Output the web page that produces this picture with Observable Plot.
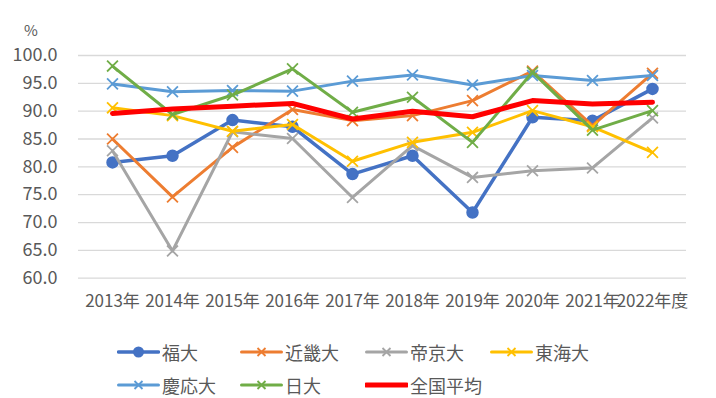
<!DOCTYPE html>
<html>
<head>
<meta charset="utf-8">
<script src="https://cdn.jsdelivr.net/npm/d3@7"></script>
<script src="https://cdn.jsdelivr.net/npm/@observablehq/plot@0.6"></script>
<style>
  html, body { margin: 0; padding: 0; background: #fff; }
  #wrap { position: relative; width: 716px; height: 398px; overflow: hidden;
          font-family: "Noto Sans CJK JP", "Noto Sans", sans-serif; color: #595959; }
  #unit { position: absolute; left: 24px; top: 22px; font-size: 15px; line-height: 15px; }
  .leg { position: absolute; display: flex; align-items: center; font-size: 18px; height: 24px; line-height: 24px; }
  .leg svg { margin-right: 2px; }
</style>
</head>
<body>
<div id="wrap">
  <div id="chart"></div>
  <div id="unit">%</div>
</div>
<script>
const years = ["2013年","2014年","2015年","2016年","2017年","2018年","2019年","2020年","2021年","2022年度"];
const seriesNames = ["福大","近畿大","帝京大","東海大","慶応大","日大","全国平均"];
const fukudai  = [80.8, 82.0, 88.4, 87.2, 78.7, 82.0, 71.8, 88.9, 88.3, 94.0];
const kinki    = [85.0, 74.6, 83.5, 90.3, 88.3, 89.2, 91.9, 97.2, 87.4, 96.8];
const teikyo   = [82.9, 64.9, 86.3, 85.1, 74.5, 83.8, 78.1, 79.3, 79.8, 88.8];
const tokai    = [90.6, 89.2, 86.4, 87.6, 81.0, 84.4, 86.2, 90.1, 87.2, 82.6];
const keio     = [94.9, 93.5, 93.7, 93.6, 95.4, 96.5, 94.7, 96.4, 95.5, 96.4];
const nichidai = [98.1, 89.4, 92.9, 97.6, 89.8, 92.5, 84.4, 97.0, 86.6, 90.1];
const average  = [89.6, 90.4, 90.9, 91.4, 88.6, 90.0, 89.0, 91.9, 91.3, 91.6];
const yTicks = [60, 65, 70, 75, 80, 85, 90, 95, 100];

const colors  = ["#4472C4","#ED7D31","#A5A5A5","#FFC000","#5B9BD5","#70AD47","#FF0000"];
const markers = ["circle","times","times","times","times","times",null];
const widths  = [3.5, 3, 3, 3, 3, 3, 5];
const values  = [fukudai, kinki, teikyo, tokai, keio, nichidai, average];

const rows = [];
seriesNames.forEach((s, i) => years.forEach((y, j) => rows.push({series: s, idx: i, year: y, value: values[i][j]})));

const marks = [
  Plot.ruleY(yTicks, {stroke: "#D9D9D9", strokeWidth: 1.3}),
  Plot.axisY(yTicks, {tickSize: 0, tickPadding: 21, tickFormat: d => d.toFixed(1),
    fontSize: 18, fill: "#595959", label: null}),
  Plot.axisX({tickSize: 0, tickPadding: 17, fontSize: 17, fill: "#595959", label: null})
];
seriesNames.forEach((s, i) => {
  const d = rows.filter(r => r.idx === i);
  marks.push(Plot.line(d, {x: "year", y: "value", stroke: colors[i], strokeWidth: widths[i],
    strokeLinejoin: "round", strokeLinecap: "round"}));
  if (markers[i] === "circle") {
    marks.push(Plot.dot(d, {x: "year", y: "value", r: 5.5, fill: colors[i], stroke: colors[i]}));
  } else if (markers[i]) {
    marks.push(Plot.dot(d, {x: "year", y: "value", r: 5, symbol: "times", stroke: colors[i], strokeWidth: 1.8}));
  }
});

const chart = Plot.plot({
  width: 716, height: 330,
  marginTop: 55, marginBottom: 52.3, marginLeft: 78, marginRight: 30,
  style: {fontFamily: '"Noto Sans CJK JP", "Noto Sans", sans-serif', background: "#fff"},
  x: {type: "point", domain: years, padding: 0.5},
  y: {domain: [60, 100]},
  marks
});
document.getElementById("chart").appendChild(chart);

// legend
const legPos = [[117,352],[240,352],[365,352],[490,352],[117,385],[240,385],[365,385]];
const wrap = document.getElementById("wrap");
seriesNames.forEach((s, i) => {
  const el = document.createElement("div");
  el.className = "leg";
  el.style.left = legPos[i][0] + "px";
  el.style.top = (legPos[i][1] - 12) + "px";
  let mk = "";
  if (markers[i] === "circle") mk = `<circle cx="21.5" cy="12" r="5.5" fill="${colors[i]}"/>`;
  else if (markers[i]) mk = `<path d="M17.5,8L25.5,16M25.5,8L17.5,16" stroke="${colors[i]}" stroke-width="1.8"/>`;
  el.innerHTML = `<svg width="43" height="24"><line x1="1.5" x2="41.5" y1="12" y2="12" stroke="${colors[i]}" stroke-width="${widths[i]}" stroke-linecap="round"/>${mk}</svg><span>${s}</span>`;
  wrap.appendChild(el);
});
</script>
</body>
</html>
